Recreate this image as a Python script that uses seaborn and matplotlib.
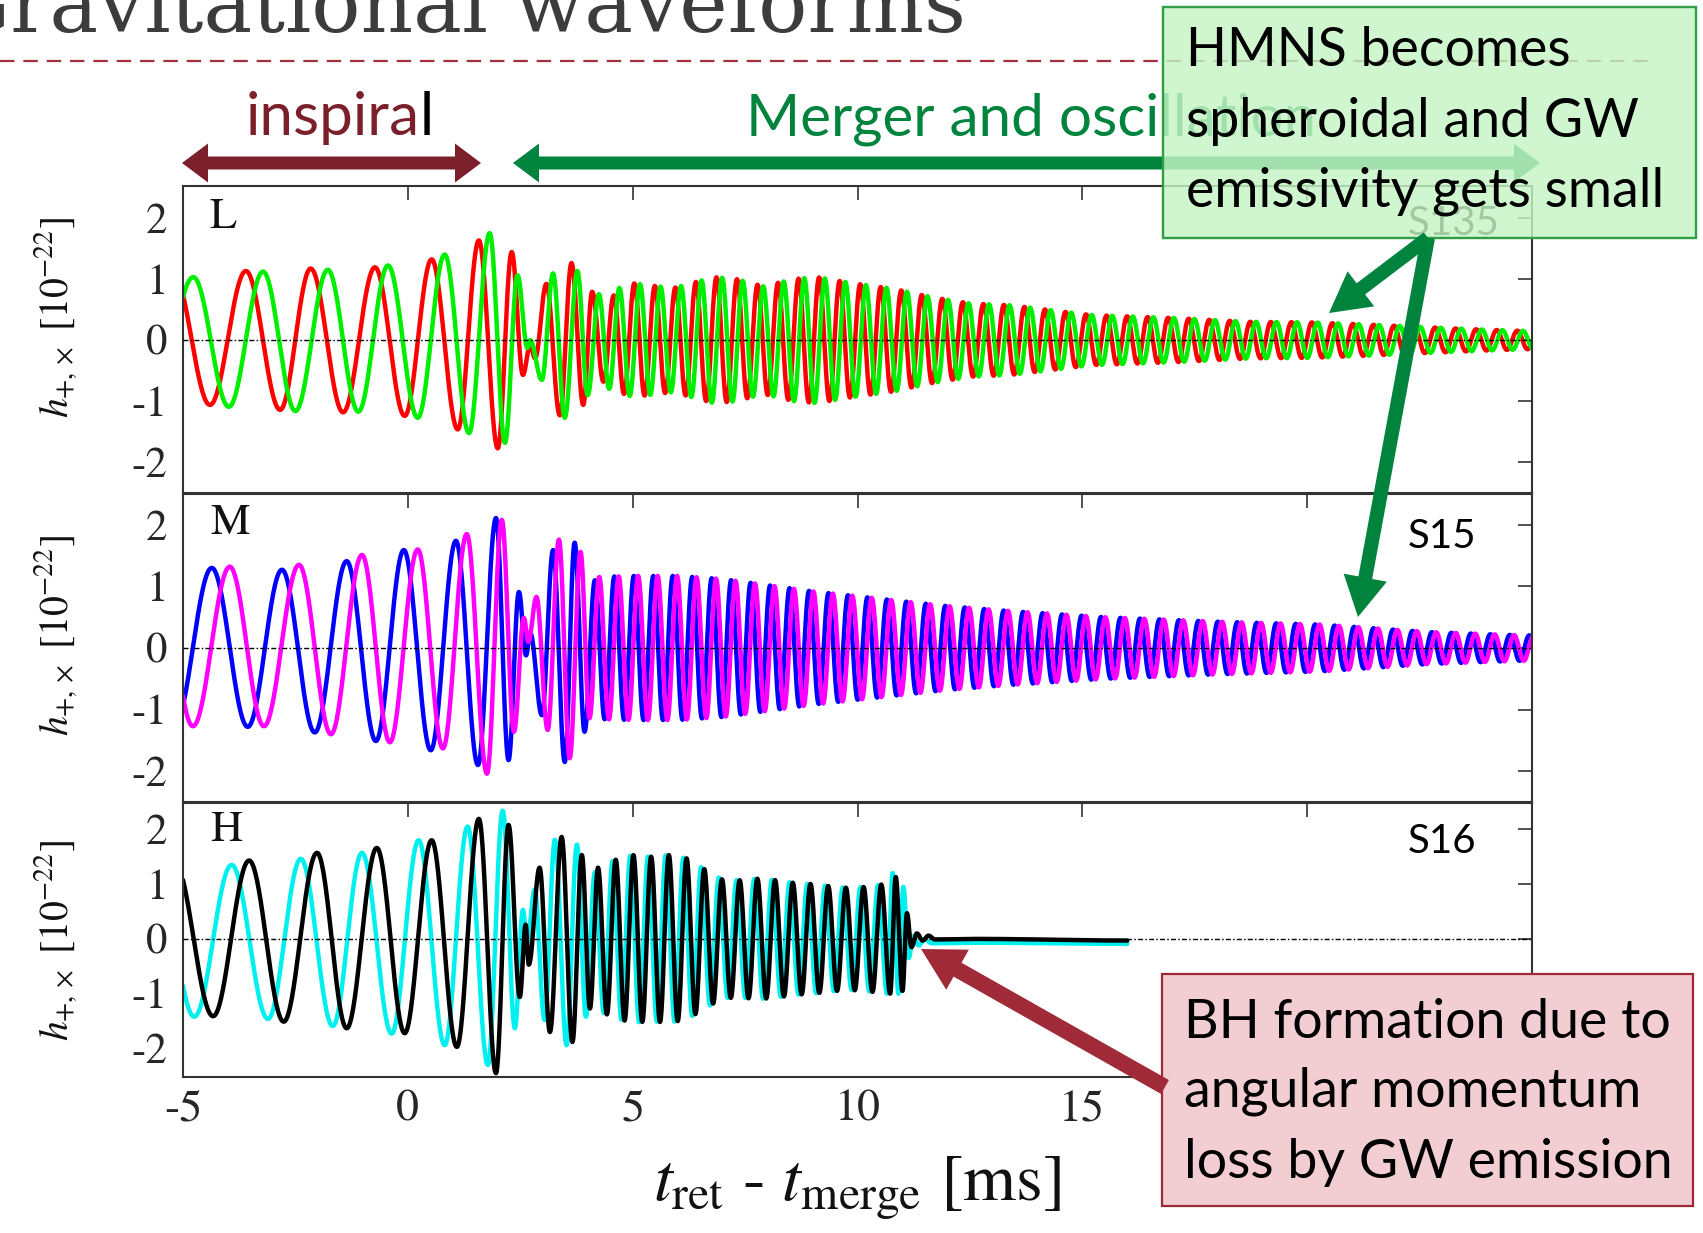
import numpy as np
import pandas as pd
import matplotlib
matplotlib.use("Agg")
import matplotlib.pyplot as plt
import seaborn as sns
from matplotlib.patches import Polygon, Rectangle, FancyArrow

# ---------------------------------------------------------------- data
t_ticks = [-5, 0, 5, 10, 15, 20, 25]
h_ticks = [-2, -1, 0, 1, 2]
panel_keys = ["L", "M", "H"]
model_names = ["S135", "S15", "S16"]

# Panel L (S135): turning points of h_+ (red) and h_x (green) through merger [ms, 1e-22]
L_plus_t = [-5.22, -4.40, -3.60, -2.84, -2.16, -1.44, -0.73, -0.07, 0.53, 1.11, 1.58, 2.00,
            2.31, 2.56, 2.72, 2.83, 3.08, 3.38, 3.64, 3.90, 4.10, 4.35, 4.58]
L_plus_h = [1.10, -1.06, 1.13, -1.14, 1.17, -1.18, 1.19, -1.24, 1.32, -1.46, 1.63, -1.77,
            1.44, -0.57, -0.08, -0.30, 0.92, -1.23, 1.26, -1.06, 0.79, -0.68, 0.73]
L_cross_t = [-5.65, -4.77, -3.98, -3.22, -2.50, -1.78, -1.10, -0.44, 0.22, 0.82, 1.36, 1.82,
             2.16, 2.44, 2.66, 2.72, 2.98, 3.23, 3.49, 3.77, 4.00, 4.25]
L_cross_h = [-1.00, 1.03, -1.09, 1.12, -1.16, 1.15, -1.17, 1.22, -1.27, 1.40, -1.52, 1.75,
             -1.68, 1.06, -0.13, 0.00, -0.65, 1.09, -1.27, 1.13, -0.90, 0.75]
# remnant oscillation: amplitude envelope and frequency
L_env_t = [4.3, 5.0, 5.9, 6.8, 7.3, 7.9, 8.6, 9.1, 9.9, 10.8, 11.6, 12.5, 13.4, 15.2, 17.1,
           18.7, 20.1, 21.5, 22.7, 24.0, 25.3]
L_env_a = [0.75, 0.93, 0.85, 1.03, 1.00, 0.88, 1.00, 1.03, 0.93, 0.84, 0.71, 0.60, 0.57, 0.41,
           0.36, 0.30, 0.29, 0.25, 0.21, 0.17, 0.14]
L_freq_khz = 2.19

# Panel M (S15): h_+ (blue) and h_x (magenta)
M_plus_t = [-5.20, -4.36, -3.56, -2.80, -2.07, -1.36, -0.71, -0.09, 0.51, 1.07, 1.56, 1.96,
            2.24, 2.47, 2.63, 2.72, 2.98, 3.23, 3.49, 3.71, 3.93, 4.16]
M_plus_h = [-1.28, 1.30, -1.28, 1.27, -1.37, 1.41, -1.51, 1.59, -1.66, 1.74, -1.90, 2.11,
            -1.82, 0.91, -0.12, 0.25, -1.09, 1.59, -1.85, 1.71, -1.36, 1.10]
M_cross_t = [-5.55, -4.78, -3.96, -3.20, -2.42, -1.71, -1.02, -0.40, 0.22, 0.78, 1.31, 1.76,
             2.09, 2.36, 2.58, 2.68, 2.86, 3.11, 3.36, 3.60, 3.84, 4.04]
M_cross_h = [1.30, -1.27, 1.32, -1.27, 1.35, -1.40, 1.51, -1.53, 1.60, -1.63, 1.85, -2.04,
             2.08, -1.36, 0.49, 0.10, 0.83, -1.33, 1.76, -1.79, 1.56, -1.14]
M_env_t = [4.1, 5.0, 6.0, 7.0, 8.0, 9.0, 10.0, 11.0, 12.0, 13.4, 15.5, 17.9, 20.3, 22.7, 24.6, 25.3]
M_env_a = [1.15, 1.17, 1.17, 1.12, 1.02, 0.92, 0.84, 0.76, 0.68, 0.60, 0.50, 0.43, 0.38, 0.26,
           0.21, 0.20]
M_freq_khz = 2.31

# Panel H (S16): h_+ (black) and h_x (cyan); collapse to a black hole near 11 ms
H_plus_t = [-5.20, -4.33, -3.53, -2.76, -2.02, -1.36, -0.69, -0.07, 0.53, 1.09, 1.58, 1.96,
            2.24, 2.49, 2.62, 2.69, 2.93, 3.16, 3.42, 3.66, 3.87, 4.05, 4.23]
H_plus_h = [1.43, -1.41, 1.43, -1.51, 1.57, -1.63, 1.66, -1.72, 1.80, -1.97, 2.19, -2.45,
            2.08, -1.06, 0.26, -0.47, 1.30, -1.70, 1.86, -1.88, 1.53, -1.27, 1.30]
H_cross_t = [-5.60, -4.75, -3.92, -3.11, -2.38, -1.67, -1.02, -0.36, 0.24, 0.82, 1.33, 1.78,
             2.11, 2.38, 2.56, 2.65, 2.82, 3.04, 3.27, 3.53, 3.76, 3.96, 4.16]
H_cross_h = [1.42, -1.42, 1.35, -1.46, 1.46, -1.59, 1.57, -1.73, 1.80, -1.94, 2.05, -2.30,
             2.34, -1.63, 0.53, -0.07, 0.90, -1.48, 1.81, -1.94, 1.72, -1.42, 1.22]
H_env_t = [4.2, 4.64, 5.0, 5.4, 5.8, 6.2, 6.6, 7.0, 7.4, 7.8, 8.2, 8.6, 9.0, 9.4, 9.8, 10.2, 10.6]
H_env_a = [1.30, 1.45, 1.53, 1.50, 1.53, 1.47, 1.27, 1.08, 1.07, 1.10, 1.07, 1.02, 1.00, 0.96,
           0.93, 0.95, 1.00]
H_freq_khz = 2.54
# ring-down after collapse
H_plus_tail_t = [10.85, 11.00, 11.10, 11.20, 11.32, 11.45, 11.58, 11.72, 12.60, 16.00]
H_plus_tail_h = [1.13, -0.95, 0.47, -0.15, 0.10, -0.03, 0.06, -0.01, 0.00, -0.03]
H_cross_tail_t = [10.78, 10.91, 11.02, 11.14, 11.24, 11.36, 11.50, 11.64, 12.60, 16.00]
H_cross_tail_h = [1.20, -1.00, 0.95, -0.35, 0.05, -0.12, 0.00, -0.08, -0.07, -0.09]

T_END = 25.3


# ------------------------------------------------------------- helpers
def turning_points(ext_t, ext_h, env_t, env_a, freq_khz, tail_t=None, tail_h=None):
    """Extend the listed turning points with the remnant's steady oscillation."""
    ts, hs = list(ext_t), list(ext_h)
    half = 0.5 / freq_khz
    limit = T_END if tail_t is None else tail_t[0] - 0.5 * half
    sign = -np.sign(hs[-1])
    t = ts[-1] + half
    while t <= limit:
        ts.append(t)
        hs.append(sign * np.interp(t, env_t, env_a))
        sign = -sign
        t += half
    if tail_t is not None:
        if np.sign(hs[-1]) == np.sign(tail_h[0]):
            ts.pop()
            hs.pop()
        ts += list(tail_t)
        hs += list(tail_h)
    return np.array(ts), np.array(hs)


def trace(ts, hs, step=0.004):
    """Smooth half-cosine arcs joining consecutive turning points."""
    out_t, out_h = [], []
    for t0, h0, t1, h1 in zip(ts[:-1], hs[:-1], ts[1:], hs[1:]):
        n = max(int(np.ceil((t1 - t0) / step)), 8)
        u = np.linspace(0.0, 1.0, n, endpoint=False)
        out_t.append(t0 + (t1 - t0) * u)
        out_h.append(0.5 * (h0 + h1) + 0.5 * (h0 - h1) * np.cos(np.pi * u))
    out_t.append([ts[-1]])
    out_h.append([hs[-1]])
    return np.concatenate(out_t), np.concatenate(out_h)


series = {
    ("L", "plus"): turning_points(L_plus_t, L_plus_h, L_env_t, L_env_a, L_freq_khz),
    ("L", "cross"): turning_points(L_cross_t, L_cross_h, L_env_t, L_env_a, L_freq_khz),
    ("M", "plus"): turning_points(M_plus_t, M_plus_h, M_env_t, M_env_a, M_freq_khz),
    ("M", "cross"): turning_points(M_cross_t, M_cross_h, M_env_t, M_env_a, M_freq_khz),
    ("H", "plus"): turning_points(H_plus_t, H_plus_h, H_env_t, H_env_a, H_freq_khz,
                                  H_plus_tail_t, H_plus_tail_h),
    ("H", "cross"): turning_points(H_cross_t, H_cross_h, H_env_t, H_env_a, H_freq_khz,
                                   H_cross_tail_t, H_cross_tail_h),
}

frames = []
for (panel, pol), (tp, hp) in series.items():
    t, h = trace(tp, hp)
    frames.append(pd.DataFrame({"t": t, "h": h, "panel": panel, "pol": pol}))
waves = pd.concat(frames, ignore_index=True)

palettes = {
    "L": {"plus": "#ff0000", "cross": "#00ee00"},
    "M": {"plus": "#0000ff", "cross": "#ff00ff"},
    "H": {"plus": "#000000", "cross": "#00f0f0"},
}
draw_order = {"L": ["plus", "cross"], "M": ["plus", "cross"], "H": ["cross", "plus"]}

# --------------------------------------------------------------- figure
sns.set_theme(style="white")
plt.rcParams["font.family"] = ["STIXGeneral", "DejaVu Serif"]
plt.rcParams["mathtext.fontset"] = "stix"
plt.rcParams["axes.unicode_minus"] = False

W, H = 1703, 1233
fig = plt.figure(figsize=(W / 100, H / 100), dpi=100)
fig.patch.set_facecolor("white")


def px_axes(left, top, right, bottom):
    return fig.add_axes([left / W, 1 - bottom / H, (right - left) / W, (bottom - top) / H])


axes = [px_axes(183, 186, 1532, 493), px_axes(183, 494, 1532, 802), px_axes(183, 803, 1532, 1077)]
ylims = [(-2.5, 2.52), (-2.5, 2.5), (-2.52, 2.48)]
label_y = [0.863, 0.87, 0.861]
model_y = [0.84, 0.825, 0.818]
sans = ["Lato", "DejaVu Sans"]

for i, (ax, key) in enumerate(zip(axes, panel_keys)):
    sub = waves[waves["panel"] == key]
    sns.lineplot(data=sub, x="t", y="h", hue="pol", hue_order=draw_order[key],
                 palette=palettes[key], estimator=None, sort=False, lw=3.2,
                 legend=False, ax=ax)
    ax.axhline(0, color="black", lw=1.0, ls=(0, (3.6, 1.6, 1.1, 1.6)), zorder=5)
    ax.set_xlim(-5, 25)
    ax.set_ylim(*ylims[i])
    ax.set_xticks(t_ticks)
    ax.set_yticks(h_ticks)
    ax.set_xlabel("")
    ax.set_ylabel("")
    ax.set_facecolor("none")
    for sp in ax.spines.values():
        sp.set_color("#333333")
        sp.set_linewidth(1.5)
    ax.tick_params(axis="both", which="both", direction="in", length=10, width=1.2,
                   color="#333333", top=True, right=True)
    ax.tick_params(axis="y", labelsize=31, pad=11)
    ax.tick_params(axis="x", labelsize=33, pad=9, labelbottom=(key == "H"))
    ax.text(0.02, label_y[i], key, transform=ax.transAxes, fontsize=32,
            ha="left", va="baseline", color="#111111")
    ax.text(0.908, model_y[i], model_names[i], transform=ax.transAxes, fontsize=29,
            family=sans, ha="left", va="baseline", color="black")

# overlay in pixel units for the slide annotations
ov = fig.add_axes([0, 0, 1, 1], zorder=10)
ov.set_xlim(0, W)
ov.set_ylim(H, 0)
ov.axis("off")
ov.patch.set_visible(False)
renderer = fig.canvas.get_renderer()


def fit_size(s, width, base=40, **kw):
    probe = ov.text(0, 0, s, fontsize=base, **kw)
    w = probe.get_window_extent(renderer).width
    probe.remove()
    return base * width / w


# axis labels
xl_size = fit_size(r"$t_{\mathrm{ret}}$ - $t_{\mathrm{merge}}$ [ms]", 408)
ov.text(857, 1200, r"$t_{\mathrm{ret}}$ - $t_{\mathrm{merge}}$ [ms]", fontsize=xl_size,
        ha="center", va="baseline", color="#111111")
yl = r"$h_{+,\times}$ [10$^{-22}$]"
yl_size = fit_size(yl, 200)
for yc in [318, 636, 941]:
    ov.text(56, yc, yl, fontsize=yl_size, rotation=90, ha="center", va="center",
            color="#111111")

# slide title (partly outside the top edge) and its dashed rule
title = "Gravitational waveforms"
t_size = fit_size("ravitational waveforms", 953, family="DejaVu Serif")
ov.text(966, 32, title, fontsize=t_size, family="DejaVu Serif", ha="right",
        va="baseline", color="#3c3c3c", clip_on=False)
ov.plot([0, 1653], [61, 61], color="#a3303c", lw=1.6, ls=(0, (6.5, 4.0)), zorder=1)


def double_arrow(x0, x1, y, shaft, head_h, head_len, color, z=2):
    pts = [(x0, y), (x0 + head_len, y - head_h / 2), (x0 + head_len, y - shaft / 2),
           (x1 - head_len, y - shaft / 2), (x1 - head_len, y - head_h / 2), (x1, y),
           (x1 - head_len, y + head_h / 2), (x1 - head_len, y + shaft / 2),
           (x0 + head_len, y + shaft / 2), (x0 + head_len, y + head_h / 2)]
    ov.add_patch(Polygon(pts, closed=True, facecolor=color, edgecolor="none", zorder=z))


dark_red = "#7b1f2a"
green = "#00843d"
double_arrow(182, 481, 163, 13, 39, 26, dark_red)
double_arrow(513, 1540, 163, 13, 39, 26, green)

ins_size = fit_size("inspiral", 188, family=sans)
part = ov.text(246, 135, "inspira", fontsize=ins_size, family=sans, color=dark_red,
               ha="left", va="baseline")
pw = part.get_window_extent(renderer).width
ov.text(246 + pw, 135, "l", fontsize=ins_size, family=sans, color="black",
        ha="left", va="baseline")
mg_size = fit_size("Merger and oscillation", 570, family=sans)
ov.text(746, 135, "Merger and oscillation", fontsize=mg_size, family=sans, color=green,
        ha="left", va="baseline", zorder=2)

# HMNS note
ov.add_patch(Rectangle((1163, 7), 533, 231, facecolor="#c6f5c6", edgecolor="#2f9e44",
                       lw=1.6, alpha=0.82, zorder=3))
ov.add_patch(Rectangle((1163, 7), 533, 231, facecolor="none", edgecolor="#2f9e44",
                       lw=1.6, zorder=3))
box_size = fit_size("emissivity gets small", 478, family=sans)
for s, yb in zip(["HMNS becomes", "spheroidal and GW", "emissivity gets small"], [66, 137, 207]):
    ov.text(1186, yb, s, fontsize=box_size, family=sans, color="black", ha="left",
            va="baseline", zorder=4)
for tip in [(1329, 313), (1358, 617)]:
    x0, y0 = 1428, 238
    ov.add_patch(FancyArrow(x0, y0, tip[0] - x0, tip[1] - y0, width=14, head_width=44,
                            head_length=40, length_includes_head=True, color=green,
                            lw=0, zorder=5))

# BH note
ov.add_patch(Rectangle((1162, 974), 531, 232, facecolor="#f2ced3", edgecolor="#9b2a36",
                       lw=1.6, zorder=3))
for s, yb in zip(["BH formation due to", "angular momentum", "loss by GW emission"],
                 [1038, 1107, 1178]):
    ov.text(1184, yb, s, fontsize=box_size, family=sans, color="black", ha="left",
            va="baseline", zorder=4)
ov.add_patch(FancyArrow(1165, 1087, 921 - 1165, 949 - 1087, width=16, head_width=46,
                        head_length=42, length_includes_head=True, color="#a02a37",
                        lw=0, zorder=5))

fig.savefig("out.png", dpi=100, facecolor="white")
